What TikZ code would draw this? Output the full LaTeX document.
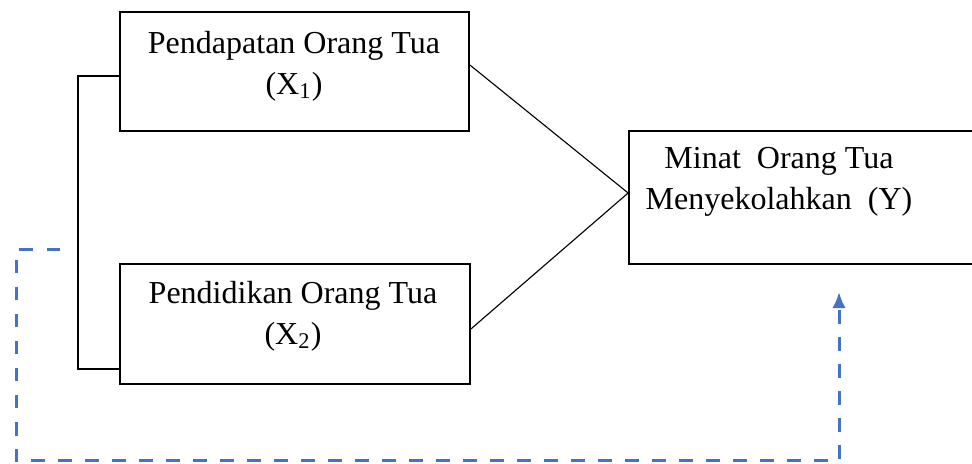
\documentclass[tikz,border=0pt]{standalone}
\usepackage{fontspec}
\setmainfont{Liberation Serif}
\usetikzlibrary{arrows.meta}
\definecolor{dashblue}{RGB}{68,114,196}

\begin{document}
\begin{tikzpicture}[x=0.4pt, y=-0.4pt,
    box/.style={draw, line width=0.7pt, rectangle, inner sep=0pt},
    txt/.style={align=center, font=\fontsize{12.8}{16.5}\selectfont, inner sep=0pt},
    link/.style={line width=0.45pt},
    back/.style={dashblue, line width=1.2pt, dash pattern=on 5.4pt off 5.4pt}]

    \useasboundingbox (0,0) rectangle (972,464);

    \node[box, minimum width=139.6pt, minimum height=47.6pt] (x1) at (294.5,71.5) {};
    \node[box, minimum width=140pt, minimum height=48pt] (x2) at (295,324) {};
    \node[box, minimum width=144.4pt, minimum height=53.2pt] (y) at (809.5,197.5) {};

    \node[txt] (x1t) at (294,66) {Pendapatan Orang Tua\\(X\textsubscript{1})};
    \node[txt] (x2t) at (293,316) {Pendidikan Orang Tua\\(X\textsubscript{2})};
    \node[txt] (yt) at (779,182) {Minat\ \ Orang Tua\\Menyekolahkan\ \ (Y)};

    % bracket on the left
    \draw[box] (x1.west |- 0,76) -- (78,76) -- (78,369) -- (x2.west |- 0,369);

    \draw[link] (x1.east |- 0,65) -- (y.west |- 0,193);
    \draw[link] (x2.east |- 0,329) -- (y.west |- 0,193);

    % dashed feedback line
    \coordinate (fbstart) at (60,250);
    \coordinate (fbend) at (839,292);
    \draw[back, -{Latex[length=6.5pt,width=5.5pt]}] (fbstart) -- (16,250) -- (16,461) -- (fbend |- 0,461) -- (fbend);

\end{tikzpicture}
\end{document}
